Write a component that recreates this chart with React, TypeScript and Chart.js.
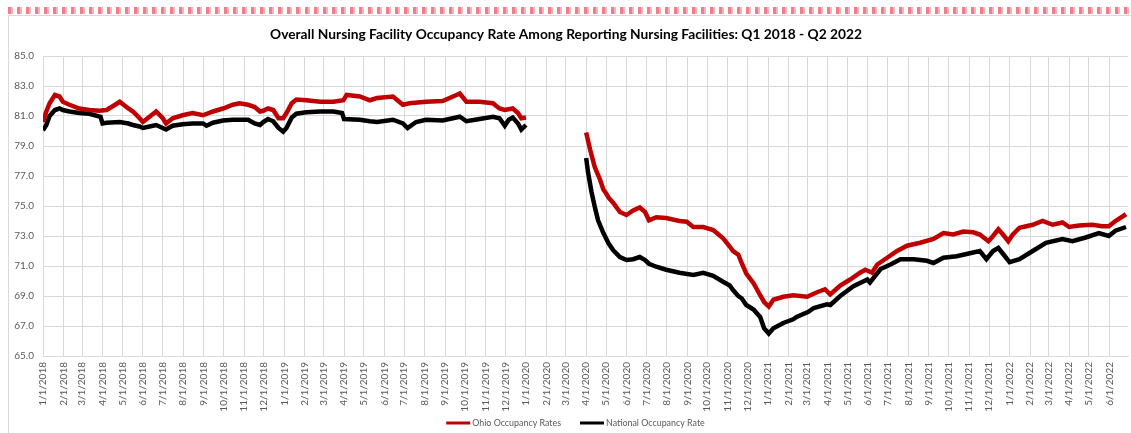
import React, { useEffect, useRef } from "react";
import { Chart, registerables } from "chart.js";

Chart.register(...registerables);

const chartTitle =
  "Overall Nursing Facility Occupancy Rate Among Reporting Nursing Facilities: Q1 2018 - Q2 2022";
const seriesNames = ["Ohio Occupancy Rates", "National Occupancy Rate"];
const seriesColors = ["#c00000", "#000000"];

const yTicks = [65, 67, 69, 71, 73, 75, 77, 79, 81, 83, 85];

// month-start tick labels (category dates on the x axis)
const xTickLabels = [
  "1/1/2018", "2/1/2018", "3/1/2018", "4/1/2018", "5/1/2018", "6/1/2018",
  "7/1/2018", "8/1/2018", "9/1/2018", "10/1/2018", "11/1/2018", "12/1/2018",
  "1/1/2019", "2/1/2019", "3/1/2019", "4/1/2019", "5/1/2019", "6/1/2019",
  "7/1/2019", "8/1/2019", "9/1/2019", "10/1/2019", "11/1/2019", "12/1/2019",
  "1/1/2020", "2/1/2020", "3/1/2020", "4/1/2020", "5/1/2020", "6/1/2020",
  "7/1/2020", "8/1/2020", "9/1/2020", "10/1/2020", "11/1/2020", "12/1/2020",
  "1/1/2021", "2/1/2021", "3/1/2021", "4/1/2021", "5/1/2021", "6/1/2021",
  "7/1/2021", "8/1/2021", "9/1/2021", "10/1/2021", "11/1/2021", "12/1/2021",
  "1/1/2022", "2/1/2022", "3/1/2022", "4/1/2022", "5/1/2022", "6/1/2022",
];
const axisStart = "1/1/2018";
const axisEnd = "6/29/2022";

const ohioDates = [
  "1/1/2018", "1/6/2018", "1/11/2018", "1/19/2018", "1/26/2018", "1/31/2018",
  "2/10/2018", "2/25/2018", "3/12/2018", "3/27/2018", "4/7/2018", "4/20/2018",
  "4/27/2018", "5/10/2018", "5/17/2018", "5/27/2018", "6/1/2018", "6/11/2018",
  "6/21/2018", "7/1/2018", "7/6/2018", "7/16/2018", "7/31/2018", "8/15/2018",
  "8/31/2018", "9/15/2018", "9/30/2018", "10/15/2018", "10/25/2018", "11/7/2018",
  "11/17/2018", "11/25/2018", "11/30/2018", "12/7/2018", "12/15/2018", "12/23/2018",
  "12/30/2018", "1/4/2019", "1/12/2019", "1/19/2019", "2/3/2019", "2/24/2019",
  "3/16/2019", "3/31/2019", "4/5/2019", "4/25/2019", "5/10/2019", "5/21/2019",
  "6/14/2019", "6/29/2019", "7/9/2019", "8/3/2019", "8/28/2019", "9/18/2019",
  "9/23/2019", "10/3/2019", "10/23/2019", "11/12/2019", "11/22/2019", "11/30/2019",
  "12/12/2019", "12/20/2019", "12/25/2019", "1/1/2020", "2/15/2020",
  "4/1/2020", "4/7/2020", "4/14/2020", "4/22/2020", "4/27/2020", "5/1/2020",
  "5/5/2020", "5/12/2020", "5/22/2020", "6/1/2020", "6/11/2020", "6/21/2020",
  "6/29/2020", "7/5/2020", "7/16/2020", "7/31/2020", "8/20/2020", "8/31/2020",
  "9/10/2020", "9/25/2020", "10/10/2020", "10/25/2020", "11/4/2020", "11/9/2020",
  "11/17/2020", "11/22/2020", "11/29/2020", "12/10/2020", "12/20/2020", "12/26/2020",
  "1/2/2021", "1/9/2021", "1/24/2021", "2/8/2021", "3/1/2021", "3/16/2021",
  "3/28/2021", "4/5/2021", "4/20/2021", "5/5/2021", "5/20/2021", "5/28/2021",
  "6/7/2021", "6/15/2021", "6/30/2021", "7/15/2021", "7/30/2021", "8/19/2021",
  "9/8/2021", "9/23/2021", "10/8/2021", "10/23/2021", "11/7/2021", "11/17/2021",
  "11/30/2021", "12/7/2021", "12/15/2021", "12/22/2021", "12/30/2021", "1/6/2022",
  "1/16/2022", "2/5/2022", "2/20/2022", "3/7/2022", "3/22/2022", "4/1/2022",
  "4/16/2022", "5/6/2022", "5/21/2022", "5/31/2022", "6/10/2022", "6/26/2022",
];
const ohioRates: (number | null)[] = [
  80.6, 81.3, 81.85, 82.4, 82.3, 81.95,
  81.75, 81.5, 81.4, 81.35, 81.4, 81.75,
  81.95, 81.5, 81.3, 80.85, 80.6, 80.95,
  81.3, 80.85, 80.5, 80.85, 81.05, 81.2,
  81.05, 81.3, 81.5, 81.75, 81.85, 81.75,
  81.6, 81.3, 81.35, 81.5, 81.4, 80.85,
  80.85, 81.2, 81.85, 82.1, 82.05, 81.95,
  81.95, 82.05, 82.4, 82.3, 82.05, 82.2,
  82.3, 81.75, 81.85, 81.95, 82.0, 82.4,
  82.5, 81.95, 81.95, 81.85, 81.5, 81.4,
  81.5, 81.2, 80.85, 80.9, null,
  79.9, 78.75, 77.6, 76.75, 76.1, 75.85,
  75.55, 75.2, 74.6, 74.4, 74.7, 74.9,
  74.6, 74.05, 74.25, 74.2, 74.0, 73.95,
  73.6, 73.6, 73.4, 72.85, 72.3, 72.0,
  71.75, 71.2, 70.5, 69.85, 69.05, 68.6,
  68.3, 68.75, 68.95, 69.05, 68.95, 69.25,
  69.45, 69.1, 69.7, 70.1, 70.55, 70.75,
  70.55, 71.1, 71.55, 72.0, 72.35, 72.55,
  72.8, 73.2, 73.1, 73.3, 73.25, 73.1,
  72.65, 73.0, 73.45, 73.1, 72.65, 73.1,
  73.55, 73.75, 74.0, 73.75, 73.9, 73.6,
  73.7, 73.75, 73.65, 73.65, 74.0, 74.45,
];

const nationalDates = [
  "1/1/2018", "1/6/2018", "1/11/2018", "1/19/2018", "1/26/2018", "1/31/2018",
  "2/10/2018", "2/25/2018", "3/12/2018", "3/29/2018", "4/1/2018", "4/7/2018",
  "4/27/2018", "5/10/2018", "5/17/2018", "5/27/2018", "6/1/2018", "6/11/2018",
  "6/21/2018", "7/1/2018", "7/6/2018", "7/16/2018", "7/31/2018", "8/15/2018",
  "8/31/2018", "9/5/2018", "9/15/2018", "9/30/2018", "10/15/2018", "11/7/2018",
  "11/17/2018", "11/25/2018", "11/30/2018", "12/7/2018", "12/15/2018", "12/23/2018",
  "12/30/2018", "1/4/2019", "1/12/2019", "1/19/2019", "2/3/2019", "2/24/2019",
  "3/16/2019", "3/29/2019", "4/1/2019", "4/25/2019", "5/10/2019", "5/21/2019",
  "6/14/2019", "6/29/2019", "7/6/2019", "7/19/2019", "8/3/2019", "8/28/2019",
  "9/23/2019", "10/3/2019", "10/23/2019", "11/12/2019", "11/22/2019", "11/30/2019",
  "12/6/2019", "12/12/2019", "12/20/2019", "12/25/2019", "1/1/2020", "2/15/2020",
  "4/1/2020", "4/4/2020", "4/9/2020", "4/14/2020", "4/19/2020", "4/27/2020",
  "5/5/2020", "5/12/2020", "5/22/2020", "6/1/2020", "6/11/2020", "6/21/2020",
  "6/29/2020", "7/5/2020", "7/16/2020", "7/31/2020", "8/20/2020", "9/10/2020",
  "9/25/2020", "10/10/2020", "10/25/2020", "11/4/2020", "11/9/2020", "11/17/2020",
  "11/22/2020", "11/29/2020", "12/10/2020", "12/20/2020", "12/26/2020", "1/2/2021",
  "1/9/2021", "1/24/2021", "2/8/2021", "2/13/2021", "3/3/2021", "3/11/2021",
  "3/31/2021", "4/5/2021", "4/20/2021", "5/10/2021", "5/31/2021", "6/4/2021",
  "6/20/2021", "7/5/2021", "7/20/2021", "8/9/2021", "8/29/2021", "9/8/2021",
  "9/23/2021", "10/13/2021", "11/2/2021", "11/17/2021", "11/27/2021", "12/7/2021",
  "12/15/2021", "12/25/2021", "1/1/2022", "1/16/2022", "2/5/2022", "2/25/2022",
  "3/22/2022", "4/6/2022", "4/26/2022", "5/16/2022", "5/31/2022", "6/10/2022",
  "6/26/2022",
];
const nationalRates: (number | null)[] = [
  80.05, 80.4, 81.0, 81.4, 81.5, 81.4,
  81.3, 81.2, 81.15, 80.95, 80.5, 80.55,
  80.6, 80.5, 80.4, 80.3, 80.2, 80.3,
  80.4, 80.2, 80.1, 80.35, 80.45, 80.5,
  80.5, 80.35, 80.55, 80.7, 80.75, 80.75,
  80.5, 80.4, 80.6, 80.8, 80.65, 80.2,
  79.95, 80.2, 80.9, 81.15, 81.25, 81.3,
  81.3, 81.2, 80.8, 80.75, 80.65, 80.6,
  80.75, 80.5, 80.2, 80.6, 80.75, 80.7,
  80.95, 80.65, 80.8, 80.95, 80.85, 80.35,
  80.75, 80.9, 80.5, 80.1, 80.4, null,
  78.2, 77.2, 75.95, 74.95, 74.05, 73.2,
  72.5, 72.05, 71.6, 71.4, 71.45, 71.6,
  71.4, 71.15, 70.95, 70.75, 70.55, 70.4,
  70.55, 70.35, 69.95, 69.7, 69.4, 69.0,
  68.85, 68.4, 68.1, 67.6, 66.85, 66.5,
  66.85, 67.2, 67.45, 67.6, 67.95, 68.2,
  68.45, 68.4, 69.0, 69.65, 70.1, 69.9,
  70.8, 71.1, 71.45, 71.45, 71.35, 71.2,
  71.55, 71.65, 71.85, 72.0, 71.45, 72.0,
  72.2, 71.65, 71.25, 71.45, 72.0, 72.55,
  72.8, 72.65, 72.9, 73.2, 73.0, 73.35,
  73.6,
];

const FONT = "Lato, 'Open Sans', sans-serif";
const GRID = "#d9d9d9";
const TEXT_GRAY = "#595959";

function dayIndex(s: string): number {
  const [m, d, y] = s.split("/").map(Number);
  return Math.round((Date.UTC(y, m - 1, d) - Date.UTC(2018, 0, 1)) / 86400000);
}

function toPoints(dates: string[], vals: (number | null)[]) {
  return dates.map((d, i) => ({ x: dayIndex(d), y: vals[i] }));
}

const tickValues = xTickLabels.map(dayIndex);
const tickLabelByValue = new Map<number, string>();
xTickLabels.forEach((l) => tickLabelByValue.set(dayIndex(l), l));

const decorPlugin = {
  id: "decor",
  beforeDraw(chart: any) {
    const ctx = chart.ctx as CanvasRenderingContext2D;
    ctx.save();
    ctx.fillStyle = "#ffffff";
    ctx.fillRect(0, 0, chart.width, chart.height);
    // pink dashed strip at top
    for (let x = 8; x < chart.width; x += 9) {
      ctx.fillStyle = "#f07d8c";
      ctx.fillRect(x, 7, 3, 7);
      ctx.fillStyle = "#f7b4bc";
      ctx.fillRect(x + 3, 7, 2, 7);
    }
    // light frame
    ctx.strokeStyle = GRID;
    ctx.lineWidth = 1;
    ctx.beginPath();
    ctx.moveTo(8.5, chart.height);
    ctx.lineTo(8.5, 15.5);
    ctx.lineTo(chart.width, 15.5);
    ctx.stroke();
    ctx.restore();
  },
  afterDraw(chart: any) {
    const ctx = chart.ctx as CanvasRenderingContext2D;
    ctx.save();
    // title
    ctx.fillStyle = "#000000";
    ctx.font = `bold 14px ${FONT}`;
    const w = ctx.measureText(chartTitle).width;
    const size = Math.min(16, (14 * 592) / w);
    ctx.font = `bold ${size.toFixed(2)}px ${FONT}`;
    ctx.textAlign = "center";
    ctx.textBaseline = "alphabetic";
    ctx.fillText(chartTitle, 566, 38.5);

    // legend
    ctx.font = `10px ${FONT}`;
    const w0 = ctx.measureText(seriesNames[0]).width;
    const lsize = Math.min(11, (10 * 89) / w0);
    ctx.font = `${lsize.toFixed(2)}px ${FONT}`;
    const lineW = 24;
    const gap = 2;
    const itemGap = 19;
    const widths = seriesNames.map((n) => ctx.measureText(n).width);
    const total =
      widths.reduce((a, b) => a + b, 0) + seriesNames.length * (lineW + gap) + itemGap;
    let x = 575.5 - total / 2;
    const y = 423;
    ctx.textAlign = "left";
    ctx.textBaseline = "middle";
    seriesNames.forEach((n, i) => {
      ctx.fillStyle = seriesColors[i];
      ctx.fillRect(x, y - 1.5, lineW, 3);
      x += lineW + gap;
      ctx.fillStyle = TEXT_GRAY;
      ctx.fillText(n, x, y);
      x += widths[i] + itemGap;
    });
    ctx.restore();
  },
};

export default function App() {
  const ref = useRef<HTMLCanvasElement>(null);
  useEffect(() => {
    const chart = new Chart(ref.current as HTMLCanvasElement, {
      type: "line",
      data: {
        datasets: [
          {
            label: seriesNames[0],
            data: toPoints(ohioDates, ohioRates) as any,
            borderColor: seriesColors[0],
            backgroundColor: seriesColors[0],
            borderWidth: 4.5,
            pointRadius: 0,
            tension: 0,
            spanGaps: false,
          },
          {
            label: seriesNames[1],
            data: toPoints(nationalDates, nationalRates) as any,
            borderColor: seriesColors[1],
            backgroundColor: seriesColors[1],
            borderWidth: 4.5,
            pointRadius: 0,
            tension: 0,
            spanGaps: false,
          },
        ],
      },
      options: {
        responsive: false,
        animation: false,
        events: [],
        layout: { padding: { top: 56, left: 8, right: 3, bottom: 0 } },
        plugins: {
          legend: { display: false },
          title: { display: false },
          tooltip: { enabled: false },
        },
        scales: {
          x: {
            type: "linear",
            min: dayIndex(axisStart),
            max: dayIndex(axisEnd),
            afterBuildTicks: (scale: any) => {
              scale.ticks = tickValues.map((v) => ({ value: v }));
            },
            afterFit: (scale: any) => {
              scale.height = 77;
              scale.paddingLeft = 0;
              scale.paddingRight = 0;
            },
            grid: { color: GRID, lineWidth: 1, drawTicks: false },
            border: { color: GRID },
            ticks: {
              autoSkip: false,
              minRotation: 90,
              maxRotation: 90,
              padding: 6,
              color: TEXT_GRAY,
              font: { family: FONT, size: 10 },
              callback: (v: any) => tickLabelByValue.get(Number(v)) ?? "",
            },
          },
          y: {
            min: 65,
            max: 85,
            afterBuildTicks: (scale: any) => {
              scale.ticks = yTicks.map((v) => ({ value: v }));
            },
            afterFit: (scale: any) => {
              scale.width = 35;
              scale.paddingTop = 0;
              scale.paddingBottom = 0;
            },
            grid: { color: GRID, lineWidth: 1, drawTicks: false },
            border: { display: false },
            ticks: {
              padding: 9,
              color: TEXT_GRAY,
              font: { family: FONT, size: 10 },
              callback: (v: any) => Number(v).toFixed(1),
            },
          },
        },
      },
      plugins: [decorPlugin],
    });
    return () => chart.destroy();
  }, []);
  return (
    <div style={{ position: "fixed", left: 0, top: 0, width: 1131, height: 433, background: "#fff" }}>
      <canvas ref={ref} width={1131} height={433} style={{ display: "block", width: 1131, height: 433 }} />
    </div>
  );
}
